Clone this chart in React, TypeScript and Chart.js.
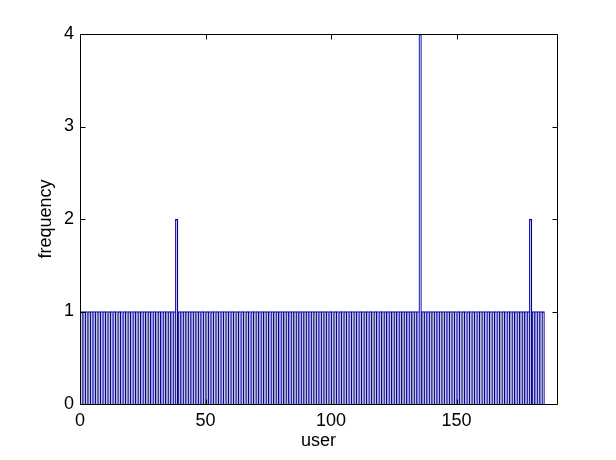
import React, { useEffect, useRef } from "react";
import { Chart, registerables } from "chart.js";

Chart.register(...registerables);

// frequency per user bin (bin i spans [i, i+1))
const counts: number[] = [
  1, 1, 1, 1, 1, 1, 1, 1, 1, 1,
  1, 1, 1, 1, 1, 1, 1, 1, 1, 1,
  1, 1, 1, 1, 1, 1, 1, 1, 1, 1,
  1, 1, 1, 1, 1, 1, 1, 1, 2, 1,
  1, 1, 1, 1, 1, 1, 1, 1, 1, 1,
  1, 1, 1, 1, 1, 1, 1, 1, 1, 1,
  1, 1, 1, 1, 1, 1, 1, 1, 1, 1,
  1, 1, 1, 1, 1, 1, 1, 1, 1, 1,
  1, 1, 1, 1, 1, 1, 1, 1, 1, 1,
  1, 1, 1, 1, 1, 1, 1, 1, 1, 1,
  1, 1, 1, 1, 1, 1, 1, 1, 1, 1,
  1, 1, 1, 1, 1, 1, 1, 1, 1, 1,
  1, 1, 1, 1, 1, 1, 1, 1, 1, 1,
  1, 1, 1, 1, 1, 4, 1, 1, 1, 1,
  1, 1, 1, 1, 1, 1, 1, 1, 1, 1,
  1, 1, 1, 1, 1, 1, 1, 1, 1, 1,
  1, 1, 1, 1, 1, 1, 1, 1, 1, 1,
  1, 1, 1, 1, 1, 1, 1, 1, 1, 2,
  1, 1, 1, 1, 1,
];
const xTicks: number[] = [0, 50, 100, 150];
const yTicks: number[] = [0, 1, 2, 3, 4];
const xMin = 0;
const xMax = 190;
const yMin = 0;
const yMax = 4;
const xTitle = "user";
const yTitle = "frequency";

const FONT = { family: "'Liberation Sans', Arial, Helvetica, sans-serif", size: 18 };

const boxPlugin = {
  id: "matlabBox",
  afterDatasetsDraw(chart: any) {
    const { ctx, chartArea: a, scales } = chart;
    ctx.save();
    ctx.strokeStyle = "#000";
    ctx.lineWidth = 1;
    const L = a.left + 0.5;
    const R = a.right + 0.5;
    const T = a.top + 0.5;
    const B = a.bottom + 0.5;
    ctx.beginPath();
    ctx.rect(L, T, R - L, B - T);
    const tl = 5;
    for (const v of xTicks) {
      const px = Math.round(scales.x.getPixelForValue(v)) + 0.5;
      ctx.moveTo(px, B);
      ctx.lineTo(px, B - tl);
      ctx.moveTo(px, T);
      ctx.lineTo(px, T + tl);
    }
    for (const v of yTicks) {
      const py = Math.round(scales.y.getPixelForValue(v)) + 0.5;
      ctx.moveTo(L, py);
      ctx.lineTo(L + tl, py);
      ctx.moveTo(R, py);
      ctx.lineTo(R - tl, py);
    }
    ctx.stroke();
    ctx.restore();
  },
};

export default function App() {
  const ref = useRef<HTMLCanvasElement | null>(null);
  useEffect(() => {
    document.body.style.margin = "0";
    const canvas = ref.current;
    if (!canvas) return;
    const data = counts.map((c, i) => ({ x: i + 0.5, y: c }));
    const chart = new Chart(canvas, {
      type: "bar",
      data: {
        datasets: [
          {
            data: data as any,
            backgroundColor: "#cacaca",
            borderColor: "#0000b0",
            borderWidth: ((ctx: any) => {
              const i = ctx.dataIndex;
              const v = counts[i];
              const next = i + 1 < counts.length ? counts[i + 1] : 0;
              return { left: 1.3, top: 1.3, right: next < v ? 1.3 : 0, bottom: 0 };
            }) as any,
            borderSkipped: false,
            barPercentage: 1,
            categoryPercentage: 1,
            grouped: false,
          } as any,
        ],
      },
      options: {
        animation: false,
        responsive: false,
        devicePixelRatio: 1,
        layout: { padding: { left: 0, top: 34, right: 59, bottom: 0 } },
        plugins: { legend: { display: false }, tooltip: { enabled: false } },
        scales: {
          x: {
            type: "linear",
            min: xMin,
            max: xMax,
            offset: false,
            grid: { display: false, drawTicks: false },
            border: { display: false },
            afterBuildTicks: (s: any) => {
              s.ticks = xTicks.map((v) => ({ value: v }));
            },
            afterFit: (s: any) => {
              s.height = 56;
            },
            ticks: {
              font: FONT,
              color: "#000",
              padding: 6,
              maxRotation: 0,
              autoSkip: false,
            },
            title: {
              display: true,
              text: xTitle,
              font: FONT,
              color: "#000",
              padding: { top: 0, bottom: 8 },
            },
          },
          y: {
            type: "linear",
            min: yMin,
            max: yMax,
            grid: { display: false, drawTicks: false },
            border: { display: false },
            afterBuildTicks: (s: any) => {
              s.ticks = yTicks.map((v) => ({ value: v }));
            },
            afterFit: (s: any) => {
              s.width = 80;
            },
            ticks: {
              font: FONT,
              color: "#000",
              padding: 6,
              autoSkip: false,
            },
            title: {
              display: true,
              text: yTitle,
              font: FONT,
              color: "#000",
              padding: { top: 35, bottom: 0 },
            },
          },
        },
      },
      plugins: [boxPlugin],
    } as any);
    return () => chart.destroy();
  }, []);
  return <canvas ref={ref} width={616} height={460} style={{ display: "block" }} />;
}
